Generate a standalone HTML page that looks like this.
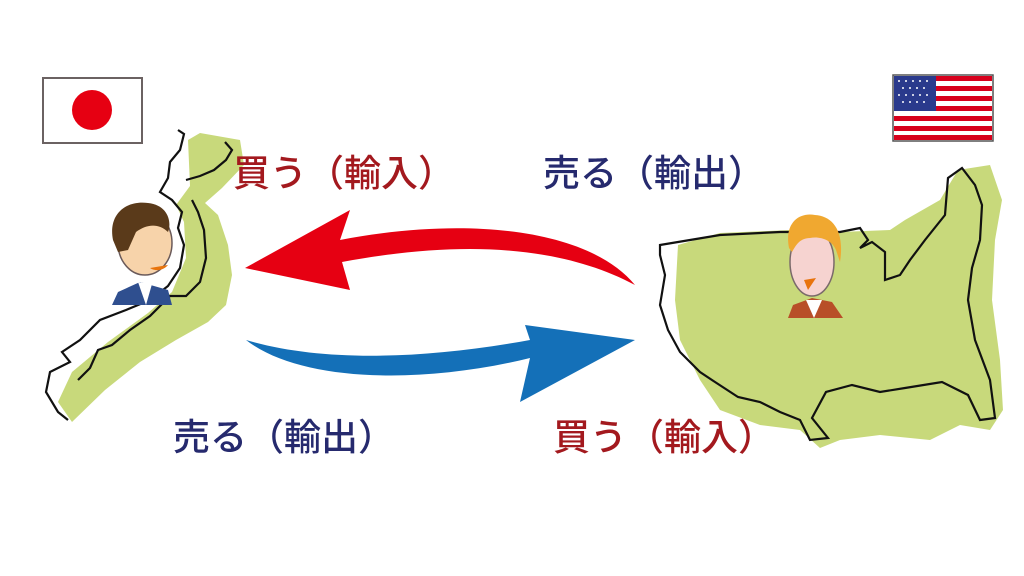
<!DOCTYPE html>
<html><head><meta charset="utf-8"><style>
body{margin:0;background:#fff;}
svg{display:block}
text{font-family:"Liberation Sans","Noto Sans CJK JP",sans-serif;font-size:37px;font-weight:500}
</style></head><body>
<svg width="1024" height="576" viewBox="0 0 1024 576" xmlns="http://www.w3.org/2000/svg">
<rect width="1024" height="576" fill="#fff"/>
<rect x="43" y="78" width="99" height="65" fill="#fff" stroke="#6b6262" stroke-width="2"/>
<circle cx="92" cy="110" r="20" fill="#e60012"/>
<g>
<rect x="893" y="75" width="100" height="66" fill="#fff" stroke="#555" stroke-width="1.5"/>
<g fill="#d7001c">
<rect x="894" y="76" width="98" height="5"/><rect x="894" y="86" width="98" height="5"/><rect x="894" y="96" width="98" height="5"/><rect x="894" y="106" width="98" height="5"/><rect x="894" y="116" width="98" height="5"/><rect x="894" y="126" width="98" height="5"/><rect x="894" y="135" width="98" height="5"/>
</g>
<rect x="894" y="76" width="42" height="35" fill="#2a3a8c"/>
<g fill="#fff"><circle cx="899" cy="81" r="1"/><circle cx="906" cy="81" r="1"/><circle cx="913" cy="81" r="1"/><circle cx="920" cy="81" r="1"/><circle cx="927" cy="81" r="1"/><circle cx="903" cy="88" r="1"/><circle cx="910" cy="88" r="1"/><circle cx="917" cy="88" r="1"/><circle cx="924" cy="88" r="1"/><circle cx="899" cy="95" r="1"/><circle cx="906" cy="95" r="1"/><circle cx="913" cy="95" r="1"/><circle cx="920" cy="95" r="1"/><circle cx="927" cy="95" r="1"/><circle cx="903" cy="102" r="1"/><circle cx="910" cy="102" r="1"/><circle cx="917" cy="102" r="1"/><circle cx="924" cy="102" r="1"/></g>
</g>
<!-- Japan map -->
<path d="M188,140 L200,133 L240,140 L244,165 L222,188 L205,203 L218,215 L228,245 L232,275 L226,305 L208,322 L176,340 L140,362 L105,390 L72,422 L58,402 L72,372 L108,342 L148,313 L172,292 L186,258 L184,222 L176,205 L190,186 Z" fill="#c8d97b"/>
<path d="M178,130 L184,134 L180,150 L170,162 L168,178 L160,192 L172,200 L182,212 L178,228 L184,245 L180,268 L168,286 L150,300 L126,310 L100,320 L80,340 L62,352 L70,362 L50,372 L46,392 L58,412 L68,420 M186,180 L200,176 L214,170 L226,160 L232,150 L225,142 M192,200 L198,212 L204,230 L206,258 L200,282 L186,296 L170,296 L150,316 L130,330 L112,345 L98,350 L90,368 L78,380" fill="none" stroke="#111" stroke-width="2.2"/>
<g>
<path d="M112,305 L118,292 L140,282 L168,290 L172,305 Z" fill="#2f4f8f"/>
<path d="M138,282 L146,305 L152,284 Z" fill="#fff"/>
<ellipse cx="145" cy="243" rx="27" ry="32" fill="#f7d3aa" stroke="#6a5a5a" stroke-width="1.5"/>
<path d="M113,240 C108,215 125,200 148,203 C168,205 172,222 168,232 C158,222 145,225 136,232 L128,250 L118,252 Z" fill="#5a3a1a"/>
<path d="M150,268 C156,272 164,270 168,265 Z" fill="#e8730c"/>
</g>
<!-- USA map -->
<path d="M678,245 L720,233 L790,230 L840,232 L890,230 L905,220 L940,200 L958,170 L990,165 L1002,200 L995,240 L992,300 L1000,360 L1003,410 L990,430 L960,425 L930,440 L880,435 L840,440 L820,448 L800,430 L760,425 L720,410 L700,380 L680,340 L675,300 Z" fill="#c8d97b"/>
<path d="M660,245 L690,240 L720,235 L780,232 L840,232 L860,228 L868,240 L860,248 L872,242 L885,252 L885,280 L900,275 L910,260 L925,240 L945,215 L948,178 L962,168 L975,185 L982,205 L980,240 L972,268 L968,300 L975,340 L990,380 L995,418 L980,420 L968,395 L942,382 L905,388 L880,392 L852,385 L826,392 L812,418 L828,438 L810,440 L800,420 L780,412 L760,402 L738,397 L715,382 L700,372 L680,352 L668,330 L660,305 L665,275 L660,255 Z" fill="none" stroke="#111" stroke-width="2.2"/>
<g>
<path d="M788,318 L793,305 L812,298 L832,302 L843,318 Z" fill="#b84f28"/>
<path d="M806,300 L814,318 L822,300 Z" fill="#fff"/>
<ellipse cx="812" cy="262" rx="22" ry="34" fill="#f6d3d0" stroke="#7a6a6a" stroke-width="1.5"/>
<path d="M789,248 C784,222 800,212 815,215 C832,216 845,230 840,262 L836,250 C832,240 820,236 810,238 C800,238 796,245 792,252 Z" fill="#f0a830"/>
<path d="M804,280 L816,278 L808,290 Z" fill="#e8730c"/>
</g>
<path d="M635,285 C590,230 470,215 340,240 L350,210 L245,268 L350,290 L342,262 C460,240 560,245 635,285 Z" fill="#e60012"/>
<path d="M246,340 C300,382 420,385 530,358 L520,402 L635,340 L525,325 L530,340 C420,360 320,362 246,340 Z" fill="#1470b8"/>
<text x="233" y="186" fill="#a3191e">買う（輸入）</text>
<text x="543" y="186" fill="#262a6e">売る（輸出）</text>
<text x="173" y="450" fill="#262a6e">売る（輸出）</text>
<text x="553" y="450" fill="#a3191e">買う（輸入）</text>
</svg>
</body></html>
